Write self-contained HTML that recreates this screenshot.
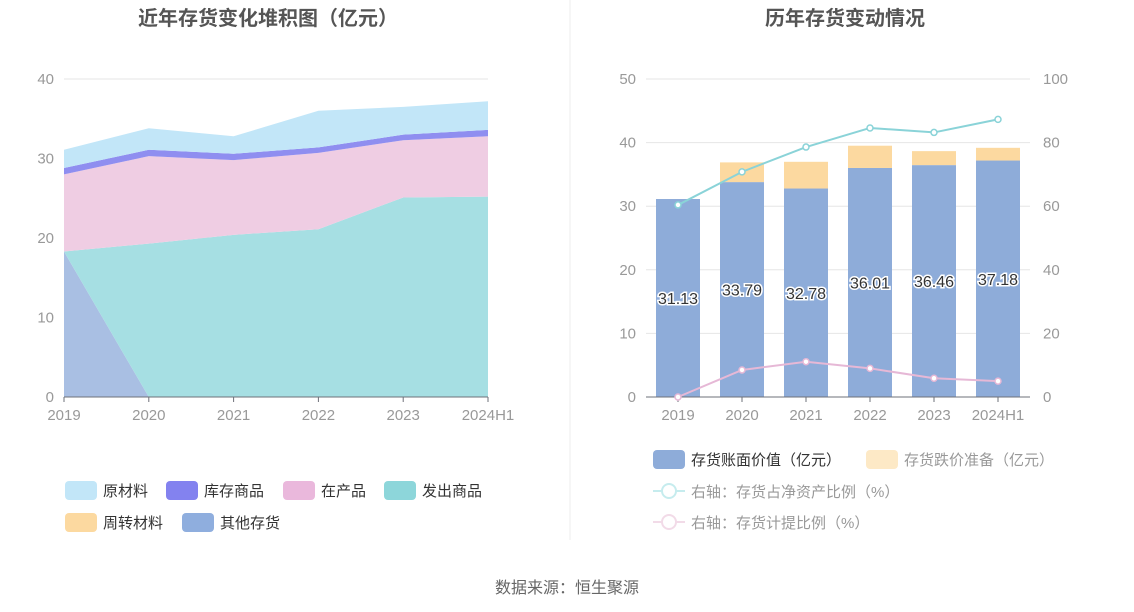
<!DOCTYPE html>
<html><head><meta charset="utf-8"><style>
body{margin:0;background:#fff;font-family:"Liberation Sans","Noto Sans CJK SC",sans-serif;}
svg{display:block}
</style></head><body>
<svg id="s" width="1134" height="612" xmlns="http://www.w3.org/2000/svg" font-family="Liberation Sans, Noto Sans CJK SC, sans-serif">
<rect width="1134" height="612" fill="#fff"/>
<line x1="570" y1="0" x2="570" y2="540" stroke="#eee"/>
<text x="268" y="25" text-anchor="middle" font-size="20" font-weight="bold" fill="#555">近年存货变化堆积图（亿元）</text>
<text x="845" y="25" text-anchor="middle" font-size="20" font-weight="bold" fill="#555">历年存货变动情况</text>
<text x="567" y="593" text-anchor="middle" font-size="16" fill="#666">数据来源：恒生聚源</text>
<g id="L"></g><g id="R"></g>
</svg>
<script>
const cats=["2019","2020","2021","2022","2023","2024H1"];
const otherInv=[18.3,0,0,0,0,0];
const shipped=[0,19.3,20.4,21.1,25.1,25.2];
const wip=[9.7,11.0,9.4,9.6,7.2,7.6];
const goods=[0.8,0.8,0.8,0.7,0.7,0.8];
const turnover=[0,0,0,0,0,0];
const raw=[2.3,2.7,2.2,4.6,3.5,3.6];
const leftTicks=[0,10,20,30,40];
const bookValue=[31.13,33.79,32.78,36.01,36.46,37.18];
const provision=[0,3.1,4.2,3.5,2.2,2.0];
const ratioNet=[60.4,70.8,78.6,84.6,83.2,87.3];
const ratioProv=[0,8.5,11.1,9.0,5.9,5.0];
const rightTicksL=[0,10,20,30,40,50];
const rightTicksR=[0,20,40,60,80,100];
const NS="http://www.w3.org/2000/svg";
function mk(p,t,a){const e=document.createElementNS(NS,t);for(const k in a)e.setAttribute(k,a[k]);p.appendChild(e);return e;}
// LEFT
const L=document.getElementById('L');
const lx=i=>64+i*(424/5), ly=v=>397-v*(318/40);
leftTicks.forEach(t=>{
 const g=mk(L,'line',{x1:64,x2:488,y1:ly(t),y2:ly(t),stroke:'#e6e6e6'});
 
 
 const tx=mk(L,'text',{x:54,y:ly(t)+5,'text-anchor':'end','font-size':15,fill:'#999'});tx.textContent=t;
 
 
});
const series=[[otherInv,'#a9bfe3','other-inventory-area'],[shipped,'#a6dfe3','shipped-goods-area'],[wip,'#efcde3','wip-area'],[goods,'#8f8ef0','stock-goods-area'],[turnover,'#fcd9a0','turnover-material-area'],[raw,'#c2e6f8','raw-material-area']];
let base=[0,0,0,0,0,0];
series.forEach(([d,c,n])=>{
 const top=base.map((b,i)=>b+d[i]);
 let p='M'+top.map((v,i)=>lx(i)+','+ly(v)).join(' L');
 for(let i=5;i>=0;i--)p+=' L'+lx(i)+','+ly(base[i]);
 const e=mk(L,'path',{d:p+'Z',fill:c});
 
 
 base=top;
});
mk(L,'line',{x1:64,x2:488,y1:397,y2:397,stroke:'#6e7079'});
cats.forEach((c,i)=>{mk(L,'line',{x1:lx(i),x2:lx(i),y1:397,y2:402,stroke:'#6e7079'});
 const t=mk(L,'text',{x:lx(i),y:420,'text-anchor':'middle','font-size':15,fill:'#999'});t.textContent=c;
 
 });
const lleg=[['原材料','#c2e6f8',65,490],['库存商品','#8382ef',166,490],['在产品','#eab8dc',283,490],['发出商品','#8dd6da',384,490],['周转材料','#fcd9a0',65,522],['其他存货','#8faede',182,522]];
lleg.forEach(([t,c,x,y])=>{const g=mk(L,'g',{});
 
 
 mk(g,'rect',{x:x,y:y-9,width:32,height:19,rx:4,fill:c});
 const tx=mk(g,'text',{x:x+38,y:y+6,'font-size':15,fill:'#333'});tx.textContent=t;});
// RIGHT
const R=document.getElementById('R');
const rx=i=>678+i*64, ry=v=>397-v*(318/50), ry2=v=>397-v*(318/100);
rightTicksL.forEach((t,k)=>{
 const g=mk(R,'line',{x1:646,x2:1030,y1:ry(t),y2:ry(t),stroke:'#e6e6e6'});
 
 
 const tx=mk(R,'text',{x:636,y:ry(t)+5,'text-anchor':'end','font-size':15,fill:'#999'});tx.textContent=t;
 
 
 const t2=mk(R,'text',{x:1043,y:ry2(rightTicksR[k])+5,'font-size':15,fill:'#999'});t2.textContent=rightTicksR[k];
 
 
});
cats.forEach((c,i)=>{
 const b=mk(R,'rect',{x:rx(i)-22,y:ry(bookValue[i]),width:44,height:397-ry(bookValue[i]),fill:'#8eacd9'});
 
 
 const top=bookValue[i]+provision[i];
 const p=mk(R,'rect',{x:rx(i)-22,y:ry(top),width:44,height:ry(bookValue[i])-ry(top),fill:'#fcd9a0'});
 
 
 const t=mk(R,'text',{x:rx(i),y:ry(bookValue[i]/2)+6,'text-anchor':'middle','font-size':16,fill:'#333',stroke:'#fff','stroke-width':3,'paint-order':'stroke'});t.textContent=bookValue[i].toFixed(2);
 
 
 mk(R,'line',{x1:rx(i),x2:rx(i),y1:397,y2:402,stroke:'#6e7079'});
 const xl=mk(R,'text',{x:rx(i),y:420,'text-anchor':'middle','font-size':15,fill:'#999'});xl.textContent=c;
 
 
});
mk(R,'line',{x1:646,x2:1030,y1:397,y2:397,stroke:'#6e7079'});
[[ratioNet,'#8ad3d8','net-asset-ratio-line'],[ratioProv,'#e6b8d6','provision-ratio-line']].forEach(([d,c,n])=>{
 const l=mk(R,'path',{d:'M'+d.map((v,i)=>rx(i)+','+ry2(v)).join(' L'),fill:'none',stroke:c,'stroke-width':2});
 
 
 d.forEach((v,i)=>{const m=mk(R,'circle',{cx:rx(i),cy:ry2(v),r:3,fill:'#fff',stroke:c,'stroke-width':1.5});
  
  });
});
const rleg=[['存货账面价值（亿元）','#8eacd9',653,459,'#333'],['存货跌价准备（亿元）','#fde9c6',866,459,'#999']];
rleg.forEach(([t,c,x,y,f])=>{const g=mk(R,'g',{});
 
 
 mk(g,'rect',{x:x,y:y-9,width:32,height:19,rx:4,fill:c});
 const tx=mk(g,'text',{x:x+38,y:y+6,'font-size':15,fill:f});tx.textContent=t;});
[['右轴：存货占净资产比例（%）','#c6ecee',491],['右轴：存货计提比例（%）','#f2dbe8',522]].forEach(([t,c,y])=>{const g=mk(R,'g',{});
 
 
 mk(g,'line',{x1:653,x2:685,y1:y,y2:y,stroke:c,'stroke-width':2});
 mk(g,'circle',{cx:669,cy:y,r:7,fill:'#fff',stroke:c,'stroke-width':2});
 const tx=mk(g,'text',{x:691,y:y+6,'font-size':15,fill:'#999'});tx.textContent=t;});
</script>
</body></html>
